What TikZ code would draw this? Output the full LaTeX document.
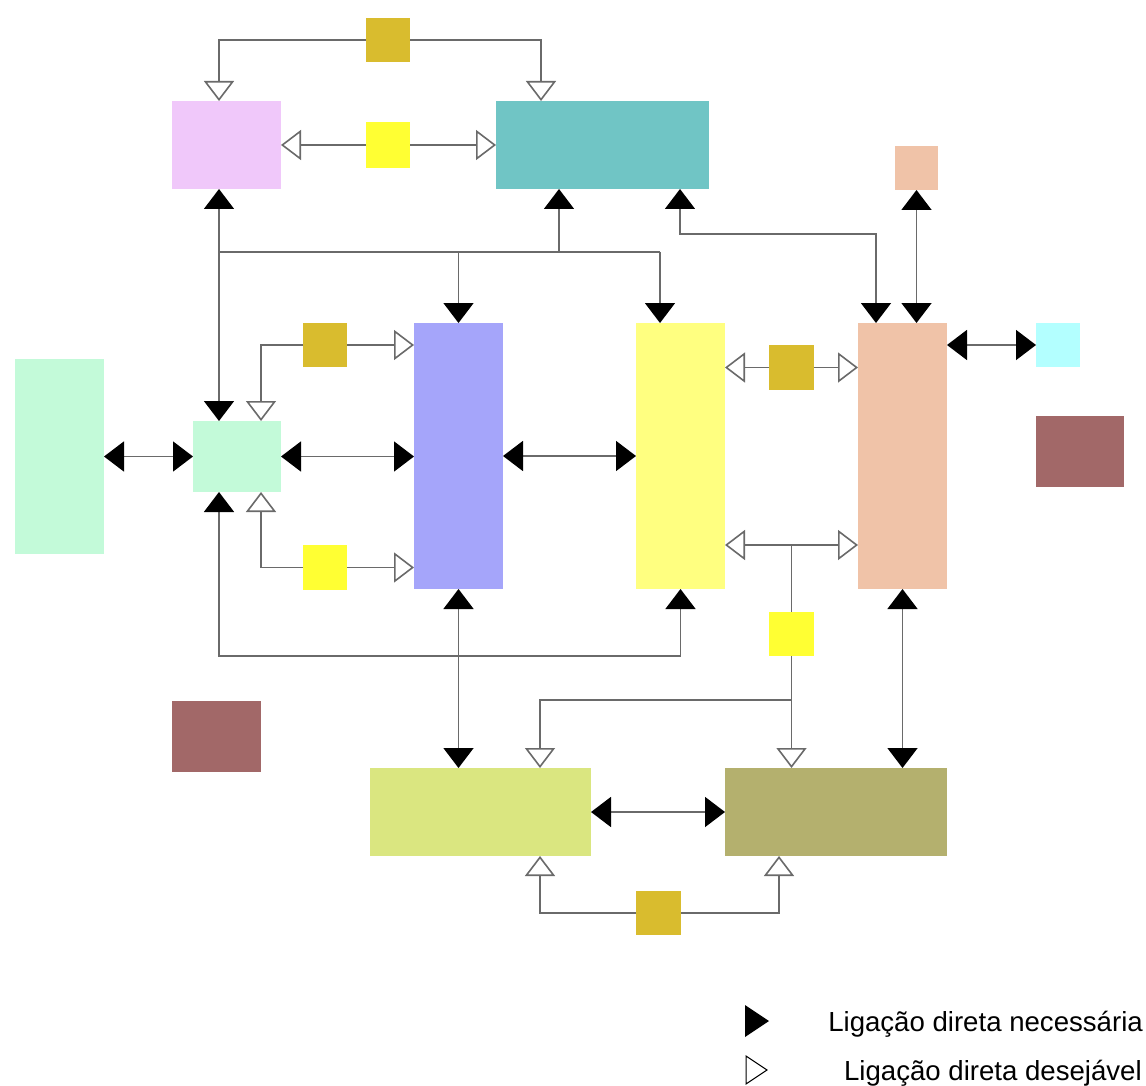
\documentclass[tikz,border=0pt]{standalone}
\usepackage{fontspec}
\setmainfont{Liberation Sans}
\usetikzlibrary{arrows.meta}
\definecolor{lncol}{HTML}{6A6A6A}
\definecolor{cgold}{HTML}{D9BC2E}
\definecolor{cyel}{HTML}{FFFF33}
\definecolor{cpink}{HTML}{F0C8FA}
\definecolor{cteal}{HTML}{70C5C5}
\definecolor{cpeach}{HTML}{F0C3A8}
\definecolor{ccyan}{HTML}{B3FFFF}
\definecolor{cbrown}{HTML}{A26868}
\definecolor{cyelT}{HTML}{FFFF80}
\definecolor{cblue}{HTML}{A5A5FA}
\definecolor{cmint}{HTML}{C3FAD9}
\definecolor{clgy}{HTML}{DAE680}
\definecolor{colive}{HTML}{B4B06E}
\tikzset{
  box/.style={draw=none, inner sep=0pt, outer sep=0pt},
  ln/.style={draw=lncol, line width=1.6pt},
  tipN/.tip={Triangle[width=30pt,length=20pt,color=black]},
  tipD/.tip={Triangle[width=30pt,length=20pt,fill=white,color=lncol]},
  nec/.style={ln, -tipN},
  necb/.style={ln, tipN-tipN},
  des/.style={ln, -tipD},
  desb/.style={ln, tipD-tipD},
}
\begin{document}
\begin{tikzpicture}[x=1pt,y=-1pt]
\fill[white] (0,0) rectangle (1146,1086);
\useasboundingbox (0,0) rectangle (1146,1086);
% boxes
\node[box, fill=cgold, minimum width=44pt, minimum height=44pt] (gT) at (388,40) {};
\node[box, fill=cyel, minimum width=44pt, minimum height=46pt] (yS1) at (388,145) {};
\node[box, fill=cpink, minimum width=109pt, minimum height=88pt] (pink) at (226.5,145) {};
\node[box, fill=cteal, minimum width=213pt, minimum height=88pt] (teal) at (602.5,145) {};
\node[box, fill=cpeach, minimum width=43pt, minimum height=44pt] (peachS) at (916.5,168) {};
\node[box, fill=cblue, minimum width=89pt, minimum height=266pt] (blue) at (458.5,456) {};
\node[box, fill=cyelT, minimum width=89pt, minimum height=266pt] (yelT) at (680.5,456) {};
\node[box, fill=cpeach, minimum width=89pt, minimum height=266pt] (peachT) at (902.5,456) {};
\node[box, fill=ccyan, minimum width=44pt, minimum height=44pt] (cyan) at (1058,345) {};
\node[box, fill=cbrown, minimum width=88pt, minimum height=71pt] (brownR) at (1080,451.5) {};
\node[box, fill=cgold, minimum width=45pt, minimum height=45pt] (gM) at (791.5,367.5) {};
\node[box, fill=cmint, minimum width=89pt, minimum height=195pt] (mintT) at (59.5,456.5) {};
\node[box, fill=cmint, minimum width=88pt, minimum height=71pt] (mintS) at (237,456.5) {};
\node[box, fill=cgold, minimum width=44pt, minimum height=44pt] (gL) at (325,345) {};
\node[box, fill=cyel, minimum width=44pt, minimum height=45pt] (yL) at (325,567.5) {};
\node[box, fill=cyel, minimum width=45pt, minimum height=44pt] (yR) at (791.5,634) {};
\node[box, fill=cbrown, minimum width=89pt, minimum height=71pt] (brownL) at (216.5,736.5) {};
\node[box, fill=clgy, minimum width=221pt, minimum height=88pt] (lgy) at (480.5,812) {};
\node[box, fill=colive, minimum width=222pt, minimum height=88pt] (olive) at (836,812) {};
\node[box, fill=cgold, minimum width=45pt, minimum height=44pt] (gB) at (658.5,913) {};
% junction coordinates
\coordinate (j1) at (219,252);
\coordinate (j2) at (660,252);
\coordinate (j3) at (559,252);
\coordinate (j4) at (791.5,545);
\coordinate (j5) at (791.5,700);
% top desirable links
\draw[des] (gT.west) -| ([xshift=-7.5pt]pink.north);
\draw[des] (gT.east) -| ([xshift=-61.5pt]teal.north);
\draw[des] (yS1.west) -- (pink.east);
\draw[des] (yS1.east) -- (teal.west);
% necessary links around top
\draw[necb] ([xshift=-7.5pt]pink.south) -- ([xshift=-18pt]mintS.north);
\draw[ln] (j1) -- (j2);
\draw[nec] (blue.north |- j1) -- (blue.north);
\draw[nec] (j2) -- ([xshift=-20.5pt]yelT.north);
\draw[nec] (j3) -- ([xshift=-43.5pt]teal.south);
\draw[necb] ([xshift=77.5pt]teal.south) -- ++(0,45) -| ([xshift=-26.5pt]peachT.north);
\draw[necb] (peachS.south) -- (peachS.south |- peachT.north);
\draw[necb] (cyan.west -| peachT.east) -- (cyan.west);
% middle
\draw[des] (gM.west) -- (gM.west -| yelT.east);
\draw[des] (gM.east) -- (gM.east -| peachT.west);
\draw[des] (j4) -- (j4 -| yelT.east);
\draw[des] (j4) -- (j4 -| peachT.west);
\draw[ln] (j4) -- (yR.north);
\draw[ln] (yR.south) -- (j5);
\draw[des] (j5) -- (j5 |- olive.north);
\draw[des] (j5) -| ([xshift=59.5pt]lgy.north);
\draw[necb] (mintT.east) -- (mintS.west);
\draw[necb] (mintS.east) -- (mintS.east -| blue.west);
\draw[necb] (blue.east) -- (yelT.west);
\draw[des] (gL.east) -- (gL.east -| blue.west);
\draw[des] (gL.west) -| ([xshift=24pt]mintS.north);
\draw[des] (yL.east) -- (yL.east -| blue.west);
\draw[des] (yL.west) -| ([xshift=24pt]mintS.south);
\draw[necb] ([xshift=-18pt]mintS.south) -- ++(0,164) -| (yelT.south);
% bottom
\draw[necb] (blue.south) -- (blue.south |- lgy.north);
\draw[necb] (peachT.south) -- (peachT.south |- olive.north);
\draw[necb] (lgy.east) -- (olive.west);
\draw[des] (gB.west) -| ([xshift=59.5pt]lgy.south);
\draw[des] (gB.east) -| ([xshift=-57pt]olive.south);
% legend
\fill[black] (745,1005) -- (769,1021) -- (745,1037) -- cycle;
\draw[black, line width=1pt] (746,1056) -- (767,1070) -- (746,1084) -- cycle;
\node[anchor=base east, inner sep=0pt, font=\fontsize{27.6}{33}\selectfont] (leg1) at (1143,1031) {Ligação direta necessária};
\node[anchor=base east, inner sep=0pt, font=\fontsize{27.6}{33}\selectfont] (leg2) at (1142,1080) {Ligação direta desejável};
\end{tikzpicture}
\end{document}
